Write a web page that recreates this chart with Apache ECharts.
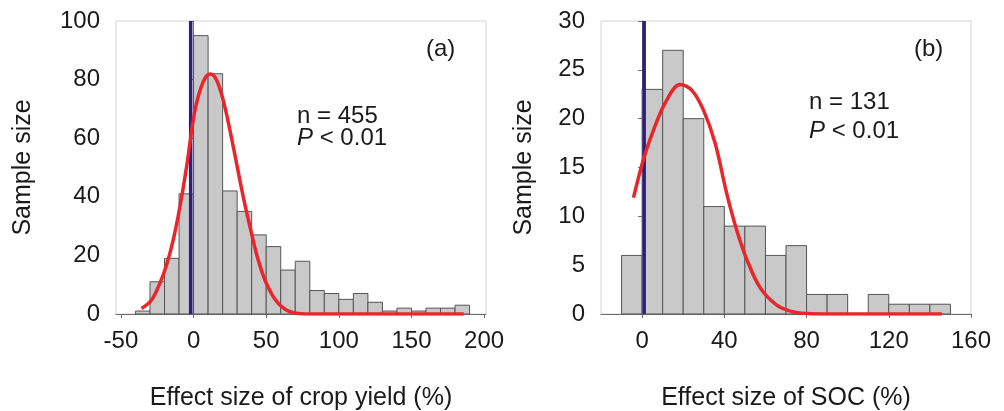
<!DOCTYPE html>
<html>
<head>
<meta charset="utf-8">
<script src="https://cdn.jsdelivr.net/npm/echarts@6/dist/echarts.min.js"></script>
<style>
  html, body { margin: 0; padding: 0; background: #ffffff; }
  #chart { width: 1004px; height: 411px; }
</style>
</head>
<body>
<div id="chart"></div>
<script>
// ---- Panel (a): crop yield ----
const binWidth = 10;
const yieldBinStarts = [-40, -30, -20, -10, 0, 10, 20, 30, 40, 50, 60, 70, 80, 90, 100, 110, 120, 130, 140, 150, 160, 170, 180];
const yieldCounts    = [1, 11, 19, 41, 95, 82, 42, 35, 27, 23, 15, 18, 8, 7, 5, 7, 4, 1, 2, 1, 2, 2, 3];
const yieldCurve = [
  [-35.8, 1.9], [-28.9, 4.8], [-23.2, 10.5], [-18.6, 16.7], [-14, 25.3], [-9.4, 36.6],
  [-4.8, 50.3], [-0.2, 66.2], [3.2, 74.2], [7.8, 80.4], [11.7, 81.9], [15.8, 79.9],
  [20.4, 73], [25, 62.8], [29.6, 51.4], [34.2, 40], [38.8, 29.8], [44.5, 18.4],
  [49.1, 11.6], [54, 6.6], [58.3, 3.6], [63, 1.6], [67.5, 0.6], [72, 0.2], [80, 0], [186, 0]
];
const yieldZeroLine = [[-2, 0], [-2, 100]];
const yieldTicksX = [-50, 0, 50, 100, 150, 200];
const yieldTicksY = [0, 20, 40, 60, 80, 100];

// ---- Panel (b): SOC ----
const socBinStarts = [-10, 0, 10, 20, 30, 40, 50, 60, 70, 80, 90, 100, 110, 120, 130, 140];
const socCounts    = [6, 23, 27, 20, 11, 9, 9, 6, 7, 2, 2, 0, 2, 1, 1, 1];
const socCurve = [
  [-4.2, 11.9], [0.6, 15.8], [5.5, 18.8], [11.2, 21.6], [18.5, 23.5], [24.2, 22.9],
  [29.8, 20.9], [35.5, 17.5], [41.2, 12.3], [46, 8.6], [50.9, 5.6], [57.4, 2.7],
  [65.5, 0.9], [72, 0.3], [80, 0.05], [90, 0], [145.8, 0]
];
const socZeroLine = [[1, 0], [1, 30]];
const socTicksX = [0, 40, 80, 120, 160];
const socTicksY = [0, 5, 10, 15, 20, 25, 30];

// ---- Shared styling ----
const FONT = '"Liberation Sans", Arial, sans-serif';
const TEXT = '#1a1a1a';
const AXIS = '#6e6e6e';
const BAR_FILL = '#c9c9c9';
const BAR_EDGE = '#555555';
const RED = '#e8262b';
const BLUE = '#2f1d7e';

function histData(starts, counts) {
  return starts.map((s, i) => [s, s + binWidth, counts[i]]);
}

function renderBin(params, api) {
  const lo = api.coord([api.value(0), 0]);
  const hi = api.coord([api.value(1), api.value(2)]);
  return {
    type: 'rect',
    shape: { x: lo[0], y: hi[1], width: hi[0] - lo[0], height: lo[1] - hi[1] },
    style: { fill: BAR_FILL, stroke: BAR_EDGE, lineWidth: 1 }
  };
}

function xAxisCfg(idx, min, max, ticks, name) {
  return {
    type: 'value', gridIndex: idx, min: min, max: max,
    name: name, nameLocation: 'middle', nameGap: 72,
    nameTextStyle: { fontFamily: FONT, fontSize: 25, color: TEXT },
    axisLine: { show: true, lineStyle: { color: AXIS, width: 1 } },
    axisTick: { show: true, length: 4, customValues: ticks, lineStyle: { color: AXIS } },
    axisLabel: { customValues: ticks, margin: 15, fontFamily: FONT, fontSize: 24, color: TEXT },
    splitLine: { show: false }
  };
}

function yAxisCfg(idx, ticks, nameGap) {
  return {
    type: 'value', gridIndex: idx,
    min: ticks[0], max: ticks[ticks.length - 1], interval: ticks[1] - ticks[0],
    name: 'Sample size', nameLocation: 'middle', nameGap: nameGap,
    nameTextStyle: { fontFamily: FONT, fontSize: 25, color: TEXT },
    axisLine: { show: true, lineStyle: { color: AXIS, width: 1 } },
    axisTick: { show: true, length: 4, lineStyle: { color: AXIS } },
    axisLabel: { margin: 16, fontFamily: FONT, fontSize: 24, color: TEXT },
    splitLine: { show: false }
  };
}

function annotation(x, y, text) {
  return {
    type: 'text', left: x, top: y, z: 100,
    style: {
      text: text, fill: TEXT, font: '24px ' + FONT,
      rich: { i: { fontStyle: 'italic', fontSize: 24, fontFamily: FONT, fill: TEXT } }
    }
  };
}

const chart = echarts.init(document.getElementById('chart'), null, { renderer: 'canvas' });

const gridBase = {
  top: 21, width: 370, height: 293, show: true,
  borderColor: '#d2d2d2', borderWidth: 1, backgroundColor: 'transparent',
  containLabel: false, outerBoundsMode: 'none'
};

chart.setOption({
  backgroundColor: '#ffffff',
  animation: false,
  grid: [
    Object.assign({ left: 116 }, gridBase),
    Object.assign({ left: 601 }, gridBase)
  ],
  xAxis: [
    xAxisCfg(0, -53.4, 201.3, yieldTicksX, 'Effect size of crop yield (%)'),
    xAxisCfg(1, -20, 160, socTicksX, 'Effect size of SOC (%)')
  ],
  yAxis: [
    yAxisCfg(0, yieldTicksY, 80),
    yAxisCfg(1, socTicksY, 64)
  ],
  series: [
    { type: 'custom', xAxisIndex: 0, yAxisIndex: 0, renderItem: renderBin,
      encode: { x: [0, 1], y: 2 }, data: histData(yieldBinStarts, yieldCounts), z: 2 },
    { type: 'line', xAxisIndex: 0, yAxisIndex: 0, data: yieldZeroLine, symbol: 'none',
      lineStyle: { color: BLUE, width: 3.5 }, z: 3 },
    { type: 'line', xAxisIndex: 0, yAxisIndex: 0, data: yieldCurve, symbol: 'none',
      smooth: 0.35, lineStyle: { color: RED, width: 3.5 }, z: 4 },

    { type: 'custom', xAxisIndex: 1, yAxisIndex: 1, renderItem: renderBin,
      encode: { x: [0, 1], y: 2 }, data: histData(socBinStarts, socCounts), z: 2 },
    { type: 'line', xAxisIndex: 1, yAxisIndex: 1, data: socZeroLine, symbol: 'none',
      lineStyle: { color: BLUE, width: 3.5 }, z: 3 },
    { type: 'line', xAxisIndex: 1, yAxisIndex: 1, data: socCurve, symbol: 'none',
      smooth: 0.35, lineStyle: { color: RED, width: 3.5 }, z: 4 }
  ],
  graphic: [
    annotation(426, 37, '(a)'),
    annotation(297, 104, 'n = 455'),
    annotation(297, 126, '{i|P} < 0.01'),
    annotation(914, 37, '(b)'),
    annotation(809, 90, 'n = 131'),
    annotation(809, 119, '{i|P} < 0.01')
  ]
});
</script>
</body>
</html>
